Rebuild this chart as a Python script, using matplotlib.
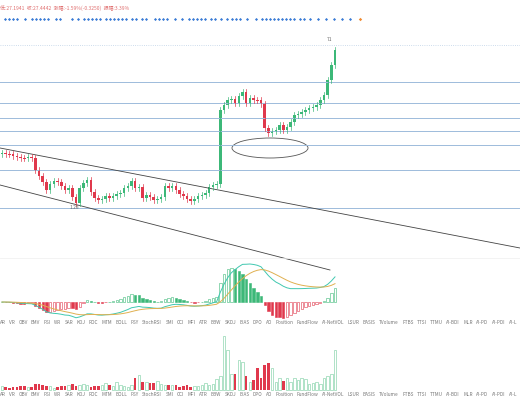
import numpy as np
import matplotlib.pyplot as plt
from matplotlib.patches import Ellipse, Rectangle

plt.rcParams['font.family'] = ['Noto Sans CJK SC', 'DejaVu Sans']

# candle closes, in chart pixel rows (smaller = higher price)
closes = [153, 154, 154, 156, 157, 158, 158, 157, 158, 170,
          176, 182, 190, 184, 181, 182, 186, 190, 188, 197,
          203, 188, 183, 180, 192, 198, 200, 199, 196, 198,
          196, 194, 193, 188, 186, 181, 188, 187, 198, 195,
          197, 200, 199, 197, 186, 188, 186, 190, 194, 196,
          199, 201, 199, 196, 195, 193, 187, 185, 184, 110,
          105, 100, 99, 103, 96, 92, 103, 98, 100, 100,
          104, 128, 133, 131, 130, 125, 130, 127, 122, 115,
          114, 112, 110, 108, 107, 105, 100, 95, 80, 65, 50]
volumes = [4, 3, 2, 3, 3, 4, 4, 3, 3, 6, 6, 5, 4, 4, 2, 3, 4, 4, 5, 6,
           4, 5, 6, 5, 3, 4, 4, 5, 7, 5, 4, 8, 5, 4, 3, 5, 12, 15, 8, 8,
           7, 7, 9, 6, 5, 5, 5, 5, 3, 4, 5, 3, 4, 4, 5, 7, 5, 6, 11, 14,
           54, 40, 16, 16, 30, 28, 14, 8, 10, 22, 12,
           25, 27, 22, 8, 12, 9, 12, 8, 12, 10, 12, 11, 6, 7, 8, 6, 12, 14, 16, 40]
levels = [82, 103, 118, 131, 145, 170, 208]
names = ["AR", "VR", "OBV", "EMV", "PSI", "WR", "SAR", "KDJ", "ROC", "MTM", "BOLL", "PSY",
         "StochRSI", "SMI", "CCI", "MFI", "ATR", "BBW", "SKDJ", "BIAS", "DPO", "AO", "Position",
         "FundFlow", "AI-NetVOL", "LSUR", "BASIS", "TVolume", "FTBS", "TTSI", "TTMU", "AI-BDI",
         "MLR", "AI-PD", "AI-PDI", "AI-L"]
dots = [5, 9, 13, 17, 25, 32, 36, 40, 44, 48, 56, 60, 72, 78, 84, 88, 92, 96, 100, 106, 110, 114,
        118, 122, 126, 132, 136, 142, 146, 155, 159, 163, 167, 175, 182, 189, 193, 197, 201, 205,
        211, 215, 221, 227, 232, 236, 240, 247, 256, 262, 266, 270, 274, 278, 282, 286, 290, 294,
        300, 304, 310, 318, 326, 334, 342, 350]

fig = plt.figure(figsize=(5.2, 4.0), dpi=100)
ax = fig.add_axes([0, 0, 1, 1])
ax.set_xlim(0, 520)
ax.set_ylim(400, 0)
ax.axis('off')

n = len(closes)
xs = 2 + np.arange(n) * 333 / (n - 1)
opens = [closes[0] + 1] + closes[:-1]
up_c, dn_c = '#3cb878', '#e0384c'

# top info line and signal dots
ax.text(0, 8, "低:27.1941  收:27.4442  涨幅:-1.59%(-0.3250)  振幅:3.39%",
        fontsize=3.6, color='#e07070', va='center')
ax.scatter(dots, [19] * len(dots), s=2.5, color='#3a7bd5', marker='D', lw=0)
ax.scatter([360], [19], s=3, color='#f08a30', marker='D', lw=0)
ax.plot([0, 520], [45, 45], color='#bcd0e6', lw=0.6, ls=':')
for lv in levels:
    ax.plot([0, 520], [lv, lv], color='#9dbbdb', lw=0.7)

# trend channel + ellipse
ax.plot([0, 520], [148, 248], color='#444444', lw=0.6)
ax.plot([0, 330], [185, 270], color='#444444', lw=0.6)
ax.add_patch(Ellipse((270, 148), 76, 20, fill=False, ec='#555555', lw=0.6))

for x, o, c in zip(xs, opens, closes):
    col = up_c if c < o else dn_c
    top, bot = min(o, c), max(o, c)
    ax.plot([x, x], [top - 3, bot + 3], color=col, lw=0.5)
    ax.add_patch(Rectangle((x - 1.3, top), 2.6, max(bot - top, 0.8), color=col, lw=0))
ax.text(xs[-1] - 3, 41, "71", fontsize=3.5, color='#666666', ha='right')
ax.text(70, 209, "1.28", fontsize=3.5, color='#666666')

# MACD panel
price = -np.array(closes, dtype=float)
def ema(v, span):
    a = 2 / (span + 1)
    out = [v[0]]
    for val in v[1:]:
        out.append(a * val + (1 - a) * out[-1])
    return np.array(out)
dif = ema(price, 12) - ema(price, 26)
dea = ema(dif, 9)
hist = 2 * (dif - dea)
scale = 38 / max(np.abs(np.concatenate([dif, dea, hist])).max(), 1)
zero = 302
ax.plot(xs, zero - dif * scale, color='#40c8b0', lw=0.7)
ax.plot(xs, zero - dea * scale, color='#e0b050', lw=0.7)
prev = 0
for x, h in zip(xs, hist):
    col = up_c if h >= 0 else dn_c
    filled = h < prev
    ax.add_patch(Rectangle((x - 1.2, zero), 2.4, -h * scale,
                           fc=col if filled else 'white', ec=col, lw=0.4))
    prev = h
ax.plot([0, 520], [258, 258], color='#eeeeee', lw=0.5)

# indicator name rows, spread to fill the width
renderer = fig.canvas.get_renderer()
inv = ax.transData.inverted()
for row_y in (323, 395):
    texts = [ax.text(0, row_y, nm, fontsize=3.4, color='#777777', va='center') for nm in names]
    widths = []
    for t in texts:
        bb = t.get_window_extent(renderer)
        widths.append(inv.transform((bb.x1, 0))[0] - inv.transform((bb.x0, 0))[0])
    gap = (517 - sum(widths)) / (len(names) - 1)
    cur = 0
    for t, w in zip(texts, widths):
        t.set_x(cur)
        cur += w + gap

# volume panel
base = 390
for x, o, c, v in zip(xs, opens, closes, volumes):
    if c < o:
        ax.add_patch(Rectangle((x - 1.3, base), 2.6, -v, fc='white', ec='#8fd6b0', lw=0.5))
    else:
        ax.add_patch(Rectangle((x - 1.3, base), 2.6, -v, color=dn_c, lw=0))

fig.savefig("out.png", dpi=100)
